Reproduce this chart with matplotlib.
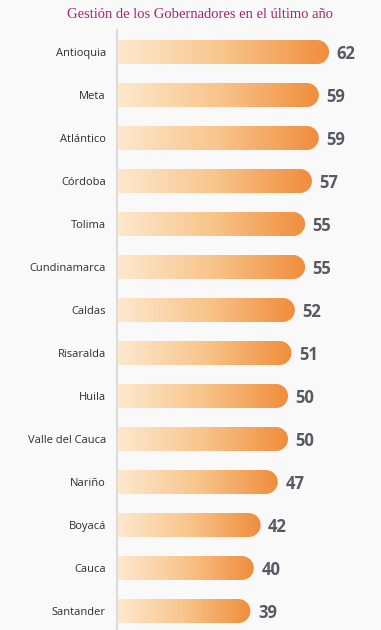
import numpy as np
import matplotlib.pyplot as plt
from matplotlib.path import Path
from matplotlib.patches import PathPatch
from matplotlib.colors import LinearSegmentedColormap

# Data
departamentos = ['Antioquia', 'Meta', 'Atlántico', 'Córdoba', 'Tolima', 'Cundinamarca',
                 'Caldas', 'Risaralda', 'Huila', 'Valle del Cauca', 'Nariño', 'Boyacá',
                 'Cauca', 'Santander']
valores = [62, 59, 59, 57, 55, 55, 52, 51, 50, 50, 47, 42, 40, 39]
titulo = 'Gestión de los Gobernadores en el último año'

W, H = 381, 630
fig = plt.figure(figsize=(W / 100, H / 100), dpi=100)
fig.patch.set_facecolor('#f9f9f9')

ax_left, ax_top = 117, 30
ax = fig.add_axes([ax_left / W, 0, 1 - ax_left / W, (H - ax_top) / H])
ax.set_facecolor('#f9f9f9')

px_per_x = 3.42
row_px = 43.0
ax.set_xlim(0, (W - ax_left) / px_per_x)
ax.set_ylim(len(valores) - 1 + 19 / row_px, -22 / row_px)

cmap = LinearSegmentedColormap.from_list('naranja', ['#fde9cf', '#f8c58c', '#f08d3c'])
grad = np.linspace(0, 1, 256).reshape(1, -1)

bar_h = 24 / row_px
rx = 12 / px_per_x
ry = bar_h / 2
theta = np.linspace(-np.pi / 2, np.pi / 2, 30)

for i, v in enumerate(valores):
    y0, y1 = i - ry, i + ry
    # rounded right end
    arc = np.column_stack([v - rx + rx * np.cos(theta), i + ry * np.sin(theta)])
    verts = np.vstack([[0, y0], [v - rx, y0], arc, [v - rx, y1], [0, y1], [0, y0]])
    path = Path(verts)
    patch = PathPatch(path, facecolor='none', edgecolor='none')
    ax.add_patch(patch)
    im = ax.imshow(grad, cmap=cmap, aspect='auto', extent=[0, v, y1, y0],
                   interpolation='bilinear', zorder=2)
    im.set_clip_path(patch)
    ax.text(v + 2.2, i + 0.04, str(v), ha='left', va='center', fontsize=12,
            fontweight='bold', color='#555a63', family='Open Sans')

ax.set_yticks(range(len(departamentos)))
ax.set_yticklabels(departamentos, fontsize=8, color='#2e2e2e', family='Open Sans')
ax.tick_params(axis='y', length=0, pad=8)
ax.set_xticks([])
for s in ['top', 'right', 'bottom']:
    ax.spines[s].set_visible(False)
ax.spines['left'].set_color('#dcdcdc')
ax.spines['left'].set_linewidth(1.5)

fig.text(200 / W, 1 - 14 / H, titulo, ha='center', va='center', fontsize=10.5,
         color='#a3246e', family='Liberation Serif')

fig.savefig('out.png', dpi=100, facecolor=fig.get_facecolor())
